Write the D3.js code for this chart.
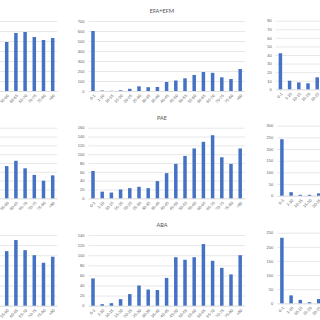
<!DOCTYPE html>
<html>
<head>
<meta charset="utf-8">
<title>Cases by age group</title>
<style>
  body { margin: 0; background: #fff; }
  svg { display: block; font-family: Carlito, Calibri, "Liberation Sans", Arial, sans-serif; }
</style>
</head>
<body>
<div id="chart"></div>
<script src="https://d3js.org/d3.v7.min.js"></script>
<script>
(function(d3) {
  'use strict';

  // age groups on every x axis
  var categories = ['0-1', '1-10', '10-15', '15-20', '20-25', '25-30', '30-35', '35-40',
    '40-45', '45-50', '50-55', '55-60', '60-65', '65-70', '70-75', '75-80', '>80'];

  // middle column (full charts)
  var efaValues = [600, 5, 2, 7, 22, 47, 38, 40, 90, 105, 127, 160, 190, 182, 137, 120, 220];
  var paeValues = [62, 15, 13, 20, 23, 26, 23, 39, 57, 78, 96, 113, 128, 143, 93, 78, 113];
  var abaValues = [54, 3, 5, 13, 23, 40, 32, 31, 55, 96, 91, 96, 122, 89, 75, 62, 100];

  // left column, only the last groups are inside the picture
  var leftCats = categories.slice(11);
  var leftTopValues = [490, 580, 590, 540, 510, 530];
  var leftMidValues = [73, 85, 68, 53, 40, 52];
  var leftBotValues = [108, 130, 110, 100, 85, 97];

  // right column, only the first groups are inside the picture
  var rightCats = categories.slice(0, 5);
  var rightTopValues = [42, 10, 8, 7, 14];
  var rightMidValues = [242, 15, 4, 4, 10];
  var rightBotValues = [232, 28, 12, 4, 15];

  var width = 320, height = 320;
  var plotW = 156.4;
  var blue = '#4472c4';

  var svg = d3.select('#chart').append('svg')
    .attr('width', width)
    .attr('height', height);

  // yLabels false where the value labels sit outside the picture
  var panels = [
    { title: '', cats: leftCats, values: leftTopValues, max: 700, step: 100, x0: -99.1, y0: 91, y1: 21, yLabels: false },
    { title: 'EFA+EFM', cats: categories, values: efaValues, max: 700, step: 100, x0: 88.4, y0: 91, y1: 21, yLabels: true },
    { title: '', cats: rightCats, values: rightTopValues, max: 80, step: 10, x0: 275.8, y0: 89.3, y1: 20.7, yLabels: true },

    { title: '', cats: leftCats, values: leftMidValues, max: 160, step: 20, x0: -99.1, y0: 198.3, y1: 127.7, yLabels: false },
    { title: 'PAE', cats: categories, values: paeValues, max: 160, step: 20, x0: 88.4, y0: 198.3, y1: 127.7, yLabels: true },
    { title: '', cats: rightCats, values: rightMidValues, max: 300, step: 50, x0: 277.3, y0: 195.7, y1: 125.7, yLabels: true },

    { title: '', cats: leftCats, values: leftBotValues, max: 140, step: 20, x0: -99.1, y0: 305.7, y1: 235, yLabels: false },
    { title: 'ABA', cats: categories, values: abaValues, max: 140, step: 20, x0: 88.4, y0: 305.7, y1: 235, yLabels: true },
    { title: '', cats: rightCats, values: rightBotValues, max: 250, step: 50, x0: 277.3, y0: 303.3, y1: 232.7, yLabels: true }
  ];

  panels.forEach(function(p) {
    var g = svg.append('g');

    var x = d3.scaleBand()
      .domain(categories)
      .range([p.x0, p.x0 + plotW])
      .paddingInner(0.62)
      .paddingOuter(0.31);

    var y = d3.scaleLinear()
      .domain([0, p.max])
      .range([p.y0, p.y1]);

    var ticks = d3.range(0, p.max + p.step / 2, p.step);

    // gridlines + y labels
    var ya = g.append('g')
      .attr('transform', 'translate(' + p.x0 + ',0)')
      .call(d3.axisLeft(y).tickValues(ticks).tickSizeInner(-plotW).tickSizeOuter(0).tickPadding(4));
    ya.select('.domain').remove();
    ya.selectAll('line').attr('stroke', '#d9d9d9').attr('stroke-width', 0.6);
    if (p.yLabels) {
      ya.selectAll('text').attr('fill', '#595959').style('font-size', '4px');
    } else {
      ya.selectAll('text').remove();
    }

    // x axis
    var xa = g.append('g')
      .attr('transform', 'translate(0,' + p.y0 + ')')
      .call(d3.axisBottom(x).tickSize(0));
    xa.select('.domain').attr('stroke', '#d9d9d9').attr('stroke-width', 0.6);
    // drop the labels that fall completely outside the picture
    xa.selectAll('.tick')
      .filter(function(d) {
        var c = x(d) + x.bandwidth() / 2;
        return c < -1 || c > width + 2;
      })
      .remove();
    xa.selectAll('text')
      .attr('x', 0).attr('y', 0).attr('dy', '0.35em')
      .attr('transform', 'translate(1.5,4) rotate(-45)')
      .style('text-anchor', 'end')
      .attr('fill', '#595959')
      .style('font-size', '4px');

    g.selectAll('rect.bar')
      .data(p.values)
      .enter()
      .append('rect')
      .attr('class', 'bar')
      .attr('x', function(d, i) { return x(p.cats[i]); })
      .attr('width', x.bandwidth())
      .attr('y', function(d) { return y(d); })
      .attr('height', function(d) { return y(0) - y(d); })
      .attr('fill', blue);

    if (p.title) {
      g.append('text')
        .attr('x', 162)
        .attr('y', p.y1 - 8)
        .attr('text-anchor', 'middle')
        .attr('fill', '#595959')
        .style('font-size', '6.5px')
        .text(p.title);
    }
  });

})(window.d3);
</script>
</body>
</html>
